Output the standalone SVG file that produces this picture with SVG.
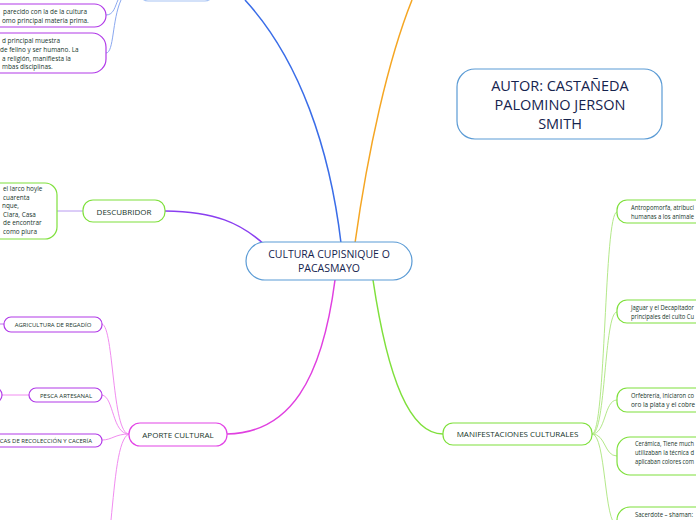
<svg xmlns="http://www.w3.org/2000/svg" width="696" height="520" viewBox="0 0 696 520">
<style>
.t{font-family:"Open Sans","Noto Sans","Liberation Sans",sans-serif;fill:#16352a}
.s{font-size:6.4px}
.m{font-size:8px;text-anchor:middle}
.n{font-size:10.5px;text-anchor:middle}
.big{font-family:"Open Sans","Noto Sans","Liberation Sans",sans-serif;font-size:14.5px;text-anchor:middle;fill:#15234e}
.bl{fill:#fff;stroke:#5b9bd5;stroke-width:1.2}
.gr{fill:#fff;stroke:#7fe03c;stroke-width:1.2}
.pu{fill:#fff;stroke:#b13ae8;stroke-width:1.2}
.mg{fill:#fff;stroke:#e244e6;stroke-width:1.2}
.c{fill:none}
</style>
<g id="connectors">
<path class="c" d="M341,243 C 330,150 300,60 245,0" stroke="#3a6de8" stroke-width="1.5"/>
<path class="c" d="M355,243 C 368,150 388,60 412,0" stroke="#f5a623" stroke-width="1.5"/>
<path class="c" d="M266,246 C 240,222 215,212 165,211" stroke="#8a3ff0" stroke-width="1.5"/>
<path class="c" d="M335,280 C 322,380 290,433 227,434" stroke="#e040e0" stroke-width="1.5"/>
<path class="c" d="M373,280 C 388,380 410,434 443,434" stroke="#7fe03c" stroke-width="1.5"/>
<path class="c" d="M83,211 L57,211" stroke="#b89af0" stroke-width="1"/>
<path class="c" d="M106,15 C 114,15 115,6 118,0" stroke="#8aa8f0" stroke-width="1"/>
<path class="c" d="M106,53 C 114,53 112,20 121,0" stroke="#8aa8f0" stroke-width="1"/>
<path class="c" d="M129,434 C 112,434 114,327 102,324" stroke="#f18cf0" stroke-width="1"/>
<path class="c" d="M129,434 C 112,434 114,397 102,395" stroke="#f18cf0" stroke-width="1"/>
<path class="c" d="M129,434 C 115,434 112,440 102,440" stroke="#f18cf0" stroke-width="1"/>
<path class="c" d="M129,434 C 118,438 115,480 111,520" stroke="#f18cf0" stroke-width="1"/>
<path class="c" d="M4,324 L0,324" stroke="#c070f0" stroke-width="1"/>
<path class="c" d="M29,395 L2,395" stroke="#f18cf0" stroke-width="1"/>
<path class="c" d="M592,434 C 606,434 604,212 617,212" stroke="#b4e88a" stroke-width="1"/>
<path class="c" d="M592,434 C 606,434 604,312 617,312" stroke="#b4e88a" stroke-width="1"/>
<path class="c" d="M592,434 C 606,434 604,400 617,400" stroke="#b4e88a" stroke-width="1"/>
<path class="c" d="M592,434 C 606,434 604,456 617,456" stroke="#b4e88a" stroke-width="1"/>
<path class="c" d="M592,434 C 606,434 604,525 617,525" stroke="#b4e88a" stroke-width="1"/>
</g>
<g id="center">
<rect class="bl" x="246" y="242" width="166" height="38" rx="19"/>
<text class="t n" x="329" y="258" style="fill:#15234e">CULTURA CUPISNIQUE O</text>
<text class="t n" x="329" y="272" style="fill:#15234e">PACASMAYO</text>
</g>
<g id="autor">
<rect class="bl" x="457" y="69" width="205" height="70" rx="18"/>
<text class="big" x="560" y="91">AUTOR: CASTAÑEDA</text>
<text class="big" x="560" y="110">PALOMINO JERSON</text>
<text class="big" x="560" y="129">SMITH</text>
</g>
<g id="top-node">
<rect x="140" y="-24" width="73" height="25" rx="8" fill="#fff" stroke="#a8c4f4" stroke-width="1.2"/>
</g>
<g id="top-box-1">
<rect class="pu" x="-20" y="4" width="126" height="23" rx="11.5"/>
<text class="t s" x="3" y="14">parecido con la de la cultura</text>
<text class="t s" x="2" y="23">omo principal materia prima.</text>
</g>
<g id="top-box-2">
<rect class="pu" x="-20" y="33" width="126" height="40" rx="14"/>
<text class="t s" x="2" y="43">d principal muestra</text>
<text class="t s" x="0" y="52">de felino y ser humano. La</text>
<text class="t s" x="2" y="60.5">a religión, manifiesta la</text>
<text class="t s" x="2" y="69">mbas disciplinas.</text>
</g>
<g id="descubridor">
<rect class="gr" x="83" y="200" width="82" height="22" rx="10"/>
<text class="t m" x="124" y="214.5">DESCUBRIDOR</text>
</g>
<g id="descubridor-info">
<rect class="gr" x="-20" y="183" width="77" height="56" rx="12"/>
<text class="t s" x="3" y="191">el larco hoyle</text>
<text class="t s" x="3" y="200">cuarenta</text>
<text class="t s" x="2" y="208">nque,</text>
<text class="t s" x="3" y="216.5">Clara, Casa</text>
<text class="t s" x="3" y="225">de encontrar</text>
<text class="t s" x="3" y="234">como piura</text>
</g>
<g id="aporte">
<rect class="mg" x="129" y="423" width="98" height="23" rx="11"/>
<text class="t m" x="178" y="437.5">APORTE CULTURAL</text>
</g>
<g id="agricultura">
<rect class="pu" x="4" y="317" width="98" height="15" rx="7"/>
<text class="t s" x="53" y="327" text-anchor="middle" style="font-size:6px">AGRICULTURA DE REGADÍO</text>
</g>
<g id="pesca">
<rect class="pu" x="29" y="388" width="73" height="14" rx="7"/>
<text class="t s" x="66" y="397.5" text-anchor="middle" style="font-size:6px">PESCA ARTESANAL</text>
</g>
<g id="pesca-child">
<rect class="pu" x="-30" y="387" width="32" height="16" rx="8"/>
</g>
<g id="recoleccion">
<rect class="pu" x="-30" y="434" width="132" height="13" rx="6.5"/>
<text class="t s" x="92" y="443" text-anchor="end" style="font-size:6px">CAS DE RECOLECCIÓN Y CACERÍA</text>
</g>
<g id="manifestaciones">
<rect class="gr" x="443" y="423" width="149" height="22" rx="10"/>
<text class="t m" x="517.5" y="437">MANIFESTACIONES CULTURALES</text>
</g>
<g id="antropomorfa">
<rect class="gr" x="617" y="200" width="110" height="23" rx="10"/>
<text class="t s" x="631" y="210" textLength="63" lengthAdjust="spacingAndGlyphs">Antropomorfa, atribuci</text>
<text class="t s" x="631" y="219" textLength="63" lengthAdjust="spacingAndGlyphs">humanas a los animale</text>
</g>
<g id="jaguar">
<rect class="gr" x="617" y="300" width="110" height="23" rx="10"/>
<text class="t s" x="631" y="310" textLength="63" lengthAdjust="spacingAndGlyphs">Jaguar y el Decapitador</text>
<text class="t s" x="631" y="319" textLength="63" lengthAdjust="spacingAndGlyphs">principales del culto Cu</text>
</g>
<g id="orfebreria">
<rect class="gr" x="617" y="388" width="110" height="24" rx="10"/>
<text class="t s" x="631" y="398" textLength="63" lengthAdjust="spacingAndGlyphs">Orfebrería, Iniciaron co</text>
<text class="t s" x="631" y="407">oro la plata y el cobre</text>
</g>
<g id="ceramica">
<rect class="gr" x="617" y="437" width="110" height="38" rx="13"/>
<text class="t s" x="635" y="446" textLength="59" lengthAdjust="spacingAndGlyphs">Cerámica, Tiene much</text>
<text class="t s" x="635" y="455" textLength="59" lengthAdjust="spacingAndGlyphs">utilizaban la técnica d</text>
<text class="t s" x="635" y="463.5" textLength="59" lengthAdjust="spacingAndGlyphs">aplicaban colores com</text>
</g>
<g id="sacerdote">
<rect class="gr" x="617" y="507" width="110" height="40" rx="13"/>
<text class="t s" x="635" y="517" textLength="58" lengthAdjust="spacingAndGlyphs">Sacerdote – shaman:</text>
</g>
</svg>
